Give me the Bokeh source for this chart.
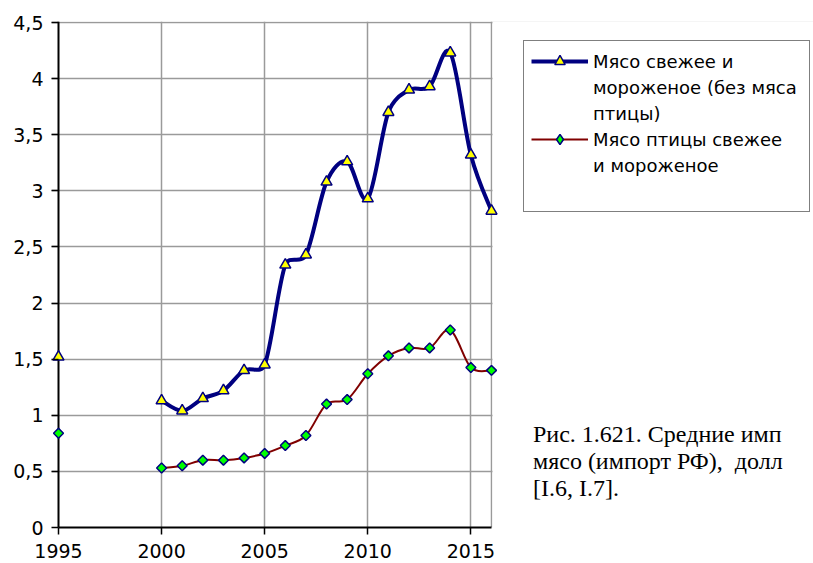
import numpy as np
from bokeh.plotting import figure
from bokeh.models import (Range1d, FixedTicker, Span, Legend, LegendItem,
                          BoxAnnotation, ColumnDataSource)
from bokeh.core.properties import value
from bokeh.embed import file_html
from bokeh.resources import INLINE

# ---------------- data ----------------
years = [1995, 2000, 2001, 2002, 2003, 2004, 2005, 2006, 2007, 2008, 2009,
         2010, 2011, 2012, 2013, 2014, 2015, 2016]
meat = [1.52, 1.13, 1.04, 1.15, 1.22, 1.40, 1.45, 2.34, 2.43, 3.08, 3.26,
        2.93, 3.70, 3.90, 3.93, 4.23, 3.32, 2.82]
poultry = [0.84, 0.53, 0.55, 0.60, 0.60, 0.62, 0.66, 0.73, 0.82, 1.10, 1.14,
           1.37, 1.53, 1.60, 1.60, 1.76, 1.425, 1.40]
x_ticks = [1995, 2000, 2005, 2010, 2015]
y_ticks = [0, 0.5, 1, 1.5, 2, 2.5, 3, 3.5, 4, 4.5]
y_tick_labels = ["0", "0,5", "1", "1,5", "2", "2,5", "3", "3,5", "4", "4,5"]
meat_label_lines = ["Мясо свежее и", "мороженое (без мяса", "птицы)"]
poultry_label_lines = ["Мясо птицы свежее", "и мороженое"]
caption_lines = ["Рис. 1.621. Средние имп",
                 "мясо (импорт РФ), \u00a0долл",
                 "[I.6, I.7]."]

# ---------------- layout constants ----------------
px_per_year = 433 / 21
px_per_unit = 505 / 4.5
pad = 7 / px_per_year
frame_w = 762
x_start = years[0] - pad
x_end = x_start + frame_w / px_per_year
y_top = y_ticks[-1] + 1.0 / px_per_unit


def smooth_segments(xs, ys, sx, sy):
    """Excel-like smoothed line: cubic Bezier segments inside contiguous runs."""
    xs = np.asarray(xs, float)
    ys = np.asarray(ys, float)
    runs, start = [], 0
    for i in range(1, len(xs) + 1):
        if i == len(xs) or xs[i] - xs[i - 1] != 1:
            runs.append((start, i))
            start = i

    def dist(a, b):
        return np.hypot((xs[a] - xs[b]) * sx, (ys[a] - ys[b]) * sy)

    out = {k: [] for k in ("x0", "y0", "x1", "y1", "cx0", "cy0", "cx1", "cy1")}
    for a, b in runs:
        n = b - a
        for k in range(n - 1):
            i1 = a + k
            i2 = i1 + 1
            i0 = i1 - 1 if k > 0 else i1
            i3 = i2 + 1 if k + 2 < n else i2
            d12 = dist(i1, i2)
            d02 = dist(i0, i2)
            d13 = dist(i1, i3)
            f1 = 1 / 6
            if d02 / 6 > d12 / 2 and d02 > 0:
                f1 = d12 / (2 * d02)
            f2 = 1 / 6
            if d13 / 6 > d12 / 2 and d13 > 0:
                f2 = d12 / (2 * d13)
            out["x0"].append(xs[i1]); out["y0"].append(ys[i1])
            out["x1"].append(xs[i2]); out["y1"].append(ys[i2])
            out["cx0"].append(xs[i1] + f1 * (xs[i2] - xs[i0]))
            out["cy0"].append(ys[i1] + f1 * (ys[i2] - ys[i0]))
            out["cx1"].append(xs[i2] - f2 * (xs[i3] - xs[i1]))
            out["cy1"].append(ys[i2] - f2 * (ys[i3] - ys[i1]))
    return ColumnDataSource(out)


p = figure(frame_width=frame_w, frame_height=506,
           min_border_left=51, min_border_right=0,
           min_border_top=21, min_border_bottom=36,
           x_range=Range1d(x_start, x_end),
           y_range=Range1d(0, y_top),
           output_backend="svg", toolbar_location=None)
p.outline_line_color = None
p.background_fill_color = "white"
p.border_fill_color = "white"

# grid (plot area ends at the last year; the rest of the frame is blank)
grid_color = "#9a9a9a"
p.xgrid.ticker = FixedTicker(ticks=x_ticks[1:] + [years[-1]], minor_ticks=[])
p.ygrid.ticker = FixedTicker(ticks=y_ticks[1:], minor_ticks=[])
p.grid.grid_line_color = grid_color
p.grid.grid_line_width = 1.5
cover = BoxAnnotation(left=years[-1] + 1.0 / px_per_year, fill_color="white",
                      fill_alpha=1, line_color=None, level="underlay")
p.add_layout(cover)

# x axis
p.xaxis.ticker = FixedTicker(ticks=x_ticks, minor_ticks=[])
p.xaxis.bounds = (years[0], years[-1])
p.xaxis.axis_line_color = "black"
p.xaxis.axis_line_width = 2
p.xaxis.major_tick_in = 0
p.xaxis.major_tick_out = 7
p.xaxis.major_tick_line_width = 1.5
p.xaxis.major_tick_line_color = "black"
p.xaxis.major_label_standoff = 9
p.xaxis.major_label_text_font = "DejaVu Sans"
p.xaxis.major_label_text_font_size = "19px"
p.xaxis.major_label_text_color = "black"

# y axis
p.yaxis.ticker = FixedTicker(ticks=y_ticks, minor_ticks=[])
p.yaxis.major_label_overrides = dict(zip(y_ticks, y_tick_labels))
p.yaxis.axis_line_color = None
p.yaxis.major_tick_in = 7
p.yaxis.major_tick_out = 0
p.yaxis.major_tick_line_width = 1.5
p.yaxis.major_tick_line_color = "black"
p.yaxis.major_label_standoff = 8
p.yaxis.major_label_text_font = "DejaVu Sans"
p.yaxis.major_label_text_font_size = "19px"
p.yaxis.major_label_text_color = "black"
y_axis_line = Span(location=years[0], dimension="height", line_color="black",
                   line_width=2, level="underlay")
p.add_layout(y_axis_line)

# series
navy = "#000080"
maroon = "#800000"
r_meat_line = p.bezier(x0="x0", y0="y0", x1="x1", y1="y1", cx0="cx0", cy0="cy0",
                       cx1="cx1", cy1="cy1",
                       source=smooth_segments(years, meat, px_per_year, px_per_unit),
                       line_color=navy, line_width=4)
r_poul_line = p.bezier(x0="x0", y0="y0", x1="x1", y1="y1", cx0="cx0", cy0="cy0",
                       cx1="cx1", cy1="cy1",
                       source=smooth_segments(years, poultry, px_per_year, px_per_unit),
                       line_color=maroon, line_width=2)
r_meat_pts = p.scatter(years, meat, marker="triangle", size=11,
                       fill_color="#FFFF00", line_color=navy, line_width=1.5)
r_poul_pts = p.scatter(years, poultry, marker="square", angle=np.pi / 4, size=7,
                       fill_color="#00FF00", line_color=navy, line_width=1.5)
r_poul_leg = p.scatter(years, poultry, marker="diamond", size=11,
                       fill_color="#00FF00", line_color=navy, line_width=1.5,
                       visible=False)

# legend: one row per text line, glyph on the first line of each series
items = [LegendItem(label=value(meat_label_lines[0]), renderers=[r_meat_line, r_meat_pts])]
items += [LegendItem(label=value(t), renderers=[]) for t in meat_label_lines[1:]]
items += [LegendItem(label=value(poultry_label_lines[0]), renderers=[r_poul_line, r_poul_leg])]
items += [LegendItem(label=value(t), renderers=[]) for t in poultry_label_lines[1:]]
items += [LegendItem(label=value(" "), renderers=[])]

legend = Legend(items=items, location=(472, 315), glyph_width=57, glyph_height=26,
                label_height=26, label_standoff=5, padding=7, spacing=0, margin=0,
                label_width=209, border_line_color="black", border_line_width=1.5,
                background_fill_color="white", background_fill_alpha=1,
                label_text_font="DejaVu Sans", label_text_font_size="18px",
                label_text_color="black")
p.add_layout(legend)

# caption text block (borderless, glyph-less legend)
cap = Legend(items=[LegendItem(label=value(t), renderers=[]) for t in caption_lines],
             location=(482, 25), glyph_width=0, glyph_height=27, label_height=27,
             label_standoff=0, padding=0, spacing=0, margin=0,
             border_line_color=None, background_fill_alpha=0,
             label_text_font="Liberation Serif", label_text_font_size="24px",
             label_text_color="black")
p.add_layout(cap)

open("out.html", "w").write(file_html(p, INLINE))
